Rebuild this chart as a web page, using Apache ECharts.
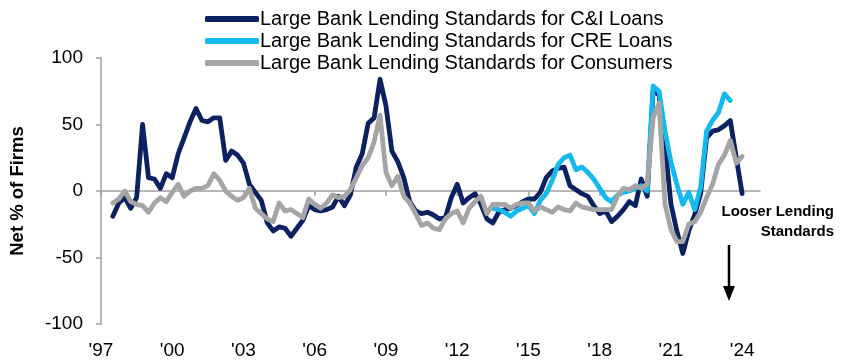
<!DOCTYPE html>
<html>
<head>
<meta charset="utf-8">
<script src="https://cdn.jsdelivr.net/npm/echarts@6/dist/echarts.min.js"></script>
<style>
html,body{margin:0;padding:0;background:#fff;}
#c{width:861px;height:360px;}
</style>
</head>
<body>
<div id="c"></div>
<script>
// Quarterly observations, 1997 Q3 .. 2024 Q1
var firstYear = 1997, firstQuarter = 3, nQuarters = 107;
var quarters = [];
for (var i = 0; i < nQuarters; i++) {
  var q = firstQuarter - 1 + i;
  quarters.push((firstYear + Math.floor(q / 4)) + 'Q' + (q % 4 + 1));
}
var seriesNames = [
  'Large Bank Lending Standards for C&I Loans',
  'Large Bank Lending Standards for CRE Loans',
  'Large Bank Lending Standards for Consumers'
];
var ciLoans = [-19,-9,-5,-13,-5,50,10,9,2,13, 10,28,40,52,62,53,52,55,55,23,
  30,27,21,5,-1,-7,-24,-30,-27,-28, -34,-28,-22,-11,-14,-15,-14,-12,-4,-11,
  -3,18,28,51,55,84,64,30,22,10, -8,-15,-17,-16,-18,-21,-20,-5,5,-9,
  -5,-2,-10,-21,-24,-16,-14,-13,-11,-8, -6,-6,-1,10,15,17,18,4,1,-2,
  -4,-11,-17,-15,-23,-19,-14,-8,-11,9, -4,76,72,35,-10,-30,-47,-30,-18,-2,
  40,45,46,49,53,25,-2];
var creStart = '2013Q3';
var creLoans = [-13,-14,-16,-19,-15,-13,-11,-17,-7,-2, 8,20,25,27,16,18,14,9,2,-5,
  -8,-3,-1,0,2,4,0,79,75,45, 22,5,-10,-1,-14,3,45,53,59,73, 68];
var consumers = [-9,-6,0,-8,-10,-11,-16,-9,-5,-8, -1,5,-4,0,2,2,4,13,8,0,
  -4,-7,-5,2,-13,-17,-21,-23,-9,-15, -14,-17,-20,-6,-10,-13,-9,-3,-5,-4,
  1,10,19,25,37,57,14,4,11,-4, -9,-17,-26,-24,-28,-29,-21,-17,-15,-24,
  -13,-8,-4,-17,-10,-10,-10,-13,-10,-9, -9,-15,-12,-14,-16,-12,-14,-15,-9,-12,
  -13,-14,-14,-14,-14,-4,2,1,4,2, 5,55,66,-10,-29,-38,-38,-25,-23,-16,
  -5,5,20,27,38,21,26];
var yearTicks = [1997,2000,2003,2006,2009,2012,2015,2018,2021,2024];

function qTime(label) { // quarter label -> position on the year axis (start of quarter)
  var y = parseInt(label.slice(0, 4), 10), q = parseInt(label.slice(5), 10);
  return y + (q - 1) / 4;
}
function pairs(vals, startLabel) {
  var s = quarters.indexOf(startLabel);
  return vals.map(function (v, i) { return [qTime(quarters[s + i]), v]; });
}

var FONT = '"Liberation Sans", Arial, sans-serif';
var chart = echarts.init(document.getElementById('c'));
var colors = ['#0b2161', '#14b9ef', '#a5a5a5'];
var lineW = 4.8;
chart.setOption({
  animation: false,
  textStyle: { fontFamily: FONT },
  grid: { left: 101, right: 101, top: 58, bottom: 36 },
  legend: {
    orient: 'vertical', left: 200, top: 3, itemGap: 0,
    itemWidth: 54, itemHeight: 6, icon: 'roundRect',
    textStyle: { fontSize: 20, lineHeight: 22, color: '#000', fontFamily: FONT, padding: [0, 0, 0, -4] },
    data: seriesNames
  },
  xAxis: [{
    type: 'value', position: 'top', min: 1997, max: 2024.75,
    axisLine: { onZero: true, lineStyle: { color: '#a0a0a0', width: 1.5 } },
    axisTick: { show: true, inside: true, length: 5, customValues: yearTicks, lineStyle: { color: '#a0a0a0', width: 1.5 } },
    axisLabel: { show: false }, splitLine: { show: false }
  }, {
    type: 'value', position: 'bottom', min: 1997, max: 2024.75,
    axisLine: { show: false, onZero: false }, axisTick: { show: false }, splitLine: { show: false },
    axisLabel: {
      customValues: yearTicks, margin: 17, fontSize: 19, color: '#000', fontFamily: FONT,
      formatter: function (v) { return "'" + String(v).slice(2, 4); }
    }
  }],
  yAxis: {
    type: 'value', min: -100, max: 100, interval: 50,
    axisLine: { show: true, lineStyle: { color: '#a0a0a0', width: 1.5 } },
    axisTick: { show: true, length: 5, lineStyle: { color: '#a0a0a0', width: 1.5 } },
    axisLabel: { fontSize: 19, color: '#000', margin: 18, fontFamily: FONT },
    splitLine: { show: false }
  },
  series: [
    { name: seriesNames[0], type: 'line', data: pairs(ciLoans, quarters[0]), showSymbol: false, symbol: 'none',
      lineStyle: { color: colors[0], width: lineW, join: 'round', cap: 'round' }, itemStyle: { color: colors[0] } },
    { name: seriesNames[1], type: 'line', data: pairs(creLoans, creStart), showSymbol: false, symbol: 'none',
      lineStyle: { color: colors[1], width: lineW, join: 'round', cap: 'round' }, itemStyle: { color: colors[1] } },
    { name: seriesNames[2], type: 'line', data: pairs(consumers, quarters[0]), showSymbol: false, symbol: 'none',
      lineStyle: { color: colors[2], width: lineW, join: 'round', cap: 'round' }, itemStyle: { color: colors[2] } }
  ],
  graphic: [
    { type: 'text', x: 18, y: 191, rotation: Math.PI / 2,
      style: { text: 'Net % of Firms', font: 'bold 18.5px ' + FONT, fill: '#000', align: 'center', verticalAlign: 'middle' } },
    { type: 'text', x: 834, y: 212,
      style: { text: 'Looser Lending', font: 'bold 15px ' + FONT, fill: '#000', align: 'right', verticalAlign: 'middle' } },
    { type: 'text', x: 834, y: 232,
      style: { text: 'Standards', font: 'bold 15px ' + FONT, fill: '#000', align: 'right', verticalAlign: 'middle' } },
    { type: 'line', shape: { x1: 729, y1: 245, x2: 729, y2: 290 }, style: { stroke: '#000', lineWidth: 2.5 } },
    { type: 'polygon', shape: { points: [[723, 286], [735, 286], [729, 301]] }, style: { fill: '#000' } }
  ]
});
</script>
</body>
</html>
